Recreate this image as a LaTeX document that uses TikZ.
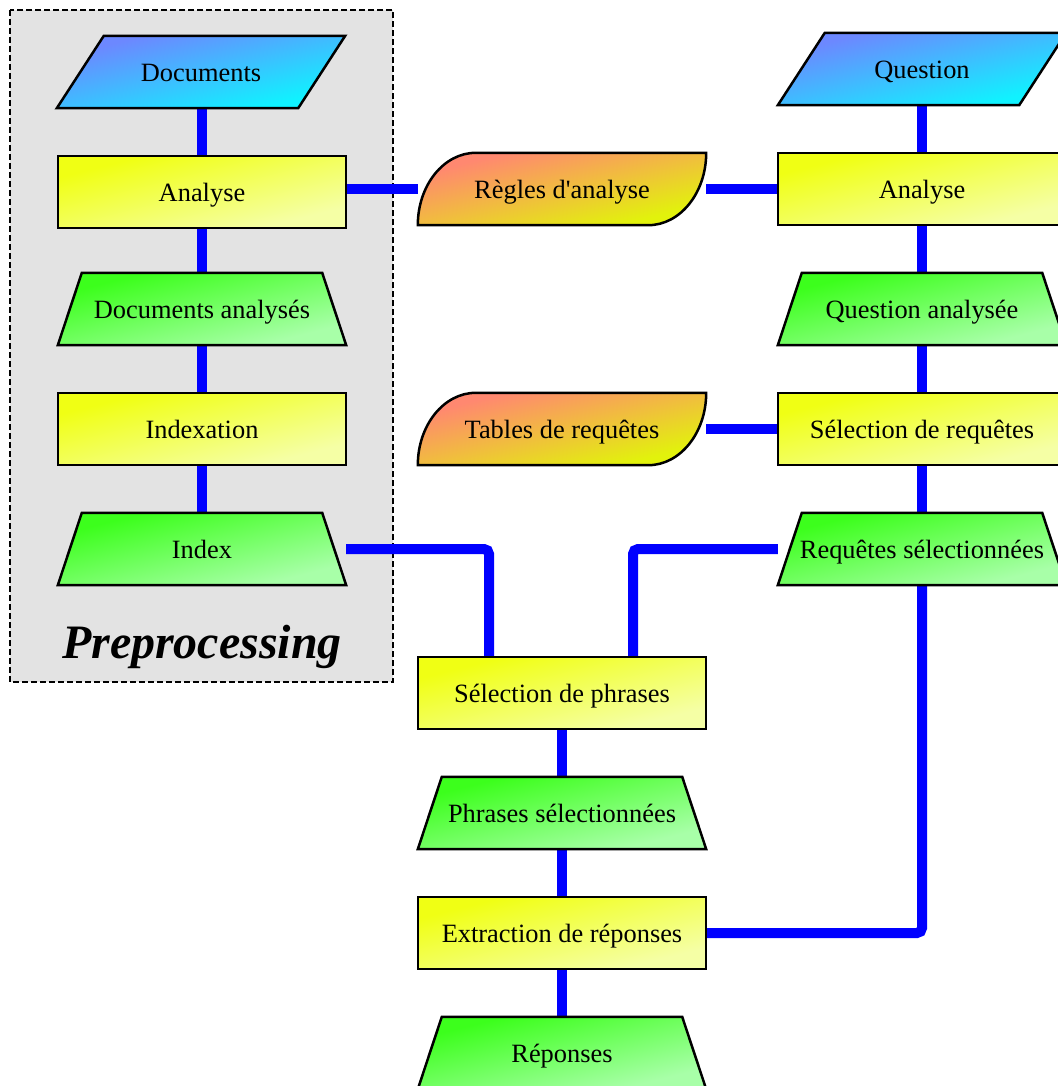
\documentclass[tikz,border=0pt]{standalone}
\usepackage{fontspec}
\setmainfont{Liberation Serif}
\usetikzlibrary{calc}

\pgfdeclarelayer{bg}
\pgfdeclarelayer{shapes}
\pgfsetlayers{bg,shapes,main}

\definecolor{linkblue}{RGB}{0,0,255}
\definecolor{boxgray}{RGB}{227,227,227}
\definecolor{ioA}{RGB}{108,136,255}
\definecolor{ioB}{RGB}{16,242,255}
\definecolor{procA}{RGB}{240,255,20}
\definecolor{procB}{RGB}{245,255,165}
\definecolor{dataA}{RGB}{60,255,28}
\definecolor{dataB}{RGB}{168,255,168}
\definecolor{storeA}{RGB}{255,136,112}
\definecolor{storeB}{RGB}{226,242,12}

\tikzset{
  lbl/.style={rectangle, inner sep=0pt, minimum width=288pt, minimum height=72pt,
    text height=18.4pt, text depth=0pt,
    font=\fontsize{26.4}{30}\selectfont, text=black},
  % diagonal gradient from the top-left to the bottom-right corner of a 288x72 box
  gradfill/.style 2 args={path picture={
      \begin{scope}[transform canvas={shift={(path picture bounding box.center)},
                                      xscale=2.88, yscale=0.72}]
        \shade[top color=#1, bottom color=#2, shading angle=45] (-50,-50) rectangle (50,50);
      \end{scope}}},
  outline/.style={draw=black, line width=2.5pt, line join=miter},
  iofill/.style={outline, gradfill={ioA}{ioB}},
  procfill/.style={outline, gradfill={procA}{procB}},
  datafill/.style={outline, gradfill={dataA}{dataB}},
  storefill/.style={outline, gradfill={storeA}{storeB}},
  link/.style={draw=linkblue, line width=10pt, rounded corners=5pt},
  groupbox/.style={draw=black, fill=boxgray, line width=1.6pt, dash pattern=on 6pt off 3pt}
}

\begin{document}
\begin{tikzpicture}[x=1pt,y=-1pt]
\useasboundingbox (0,0) rectangle (1057,1086);

% ---- text nodes ----
% preprocessing column
\node[lbl] (docs)   at (201,72)  {Documents};
\node[lbl] (anaL)   at (202,192) {Analyse};
\node[lbl] (docan)  at (202,309) {Documents analysés};
\node[lbl] (idx)    at (202,429) {Indexation};
\node[lbl] (index)  at (202,549) {Index};
\node[font=\fontsize{48}{54}\selectfont\bfseries\itshape] (pre) at (202,647) {Preprocessing};

% middle column
\node[lbl] (regles) at (562,189)  {Règles d\textquotesingle analyse};
\node[lbl] (tables) at (562,429)  {Tables de requêtes};
\node[lbl] (selph)  at (562,693)  {Sélection de phrases};
\node[lbl] (phsel)  at (562,813)  {Phrases sélectionnées};
\node[lbl] (extr)   at (562,933)  {Extraction de réponses};
\node[lbl] (rep)    at (562,1053) {Réponses};

% question column
\node[lbl] (quest)  at (922,69)  {Question};
\node[lbl] (anaR)   at (922,189) {Analyse};
\node[lbl] (qan)    at (922,309) {Question analysée};
\node[lbl] (selreq) at (922,429) {Sélection de requêtes};
\node[lbl] (reqsel) at (922,549) {Requêtes sélectionnées};

% ---- background: group frame and connectors ----
\begin{pgfonlayer}{bg}
  \path[groupbox] (10,10) rectangle (393,682);

  \draw[link] (anaL |- docs) -- (anaL) -- (docan) -- (idx) -- (index);
  \draw[link] (anaL |- regles) -- (regles) -- (anaR);
  \draw[link] (quest) -- (anaR) -- (qan) -- (selreq) -- (reqsel);
  \draw[link] (tables) -- (selreq);
  \draw[link] (index) -| ([xshift=-73pt]selph.center);
  \draw[link] (reqsel) -| ([xshift=71pt]selph.center);
  \draw[link] (reqsel) |- (extr);
  \draw[link] (selph) -- (phsel) -- (extr) -- (rep);
\end{pgfonlayer}

% ---- shapes ----
\begin{pgfonlayer}{shapes}
  % input / output parallelograms
  \foreach \n in {docs,quest}
    \path[iofill] ([xshift=47pt]\n.north west) -- (\n.north east)
      -- ([xshift=-47pt]\n.south east) -- (\n.south west) -- cycle;
  % process boxes
  \foreach \n in {anaL,idx,anaR,selreq,selph,extr}
    \path[procfill] (\n.north west) rectangle (\n.south east);
  % data trapezoids
  \foreach \n in {docan,index,qan,reqsel,phsel,rep}
    \path[datafill] ([xshift=24pt]\n.north west) -- ([xshift=-24pt]\n.north east)
      -- (\n.south east) -- (\n.south west) -- cycle;
  % stored data
  \foreach \n in {regles,tables}
    \path[storefill] (\n.south west)
      .. controls ([yshift=40pt]\n.south west) and ([xshift=26pt]\n.north west) .. ([xshift=58pt]\n.north west)
      -- (\n.north east)
      .. controls ([yshift=-40pt]\n.north east) and ([xshift=-26pt]\n.south east) .. ([xshift=-58pt]\n.south east)
      -- cycle;
\end{pgfonlayer}
\end{tikzpicture}
\end{document}
